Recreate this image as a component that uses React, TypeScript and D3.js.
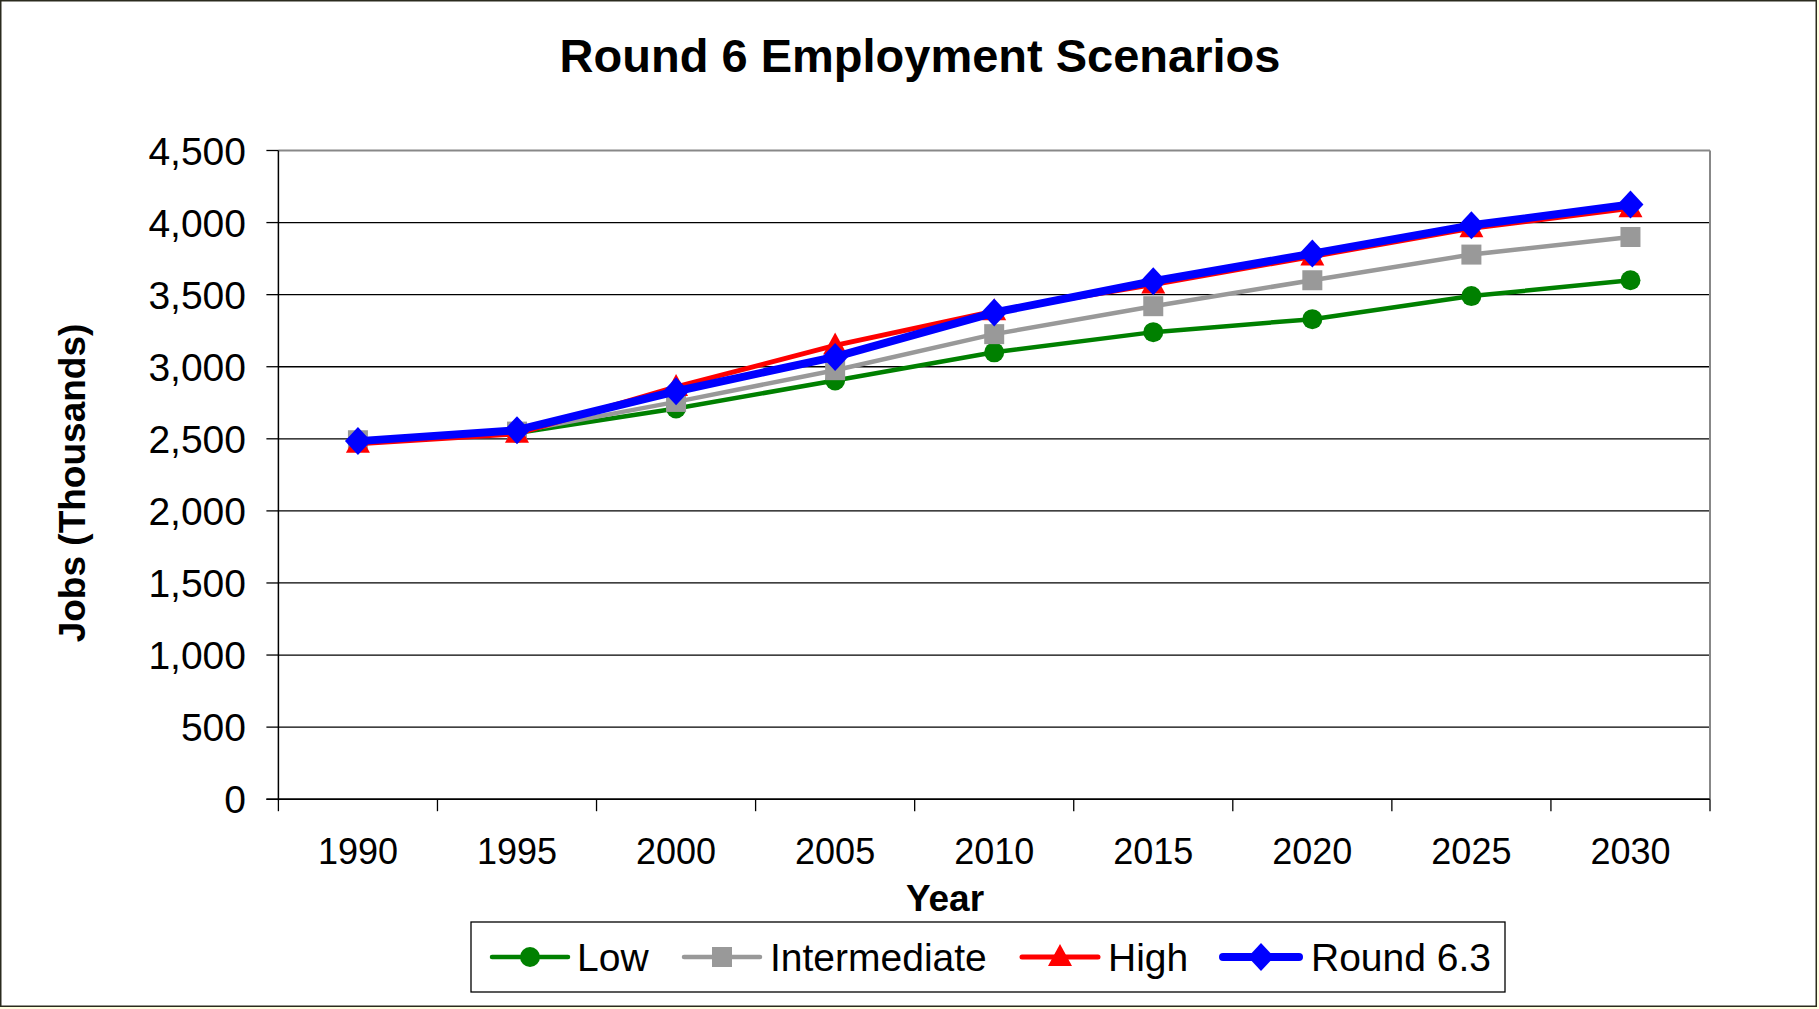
import React, { useEffect } from "react";
import * as d3 from "d3";

const years = ["1990", "1995", "2000", "2005", "2010", "2015", "2020", "2025", "2030"];
const lowValues = [2480, 2540, 2710, 2905, 3100, 3240, 3330, 3490, 3600];
const intermediateValues = [2490, 2550, 2756, 2976, 3226, 3420, 3600, 3778, 3900];
const highValues = [2465, 2535, 2860, 3148, 3385, 3570, 3765, 3960, 4100];
const round63Values = [2484, 2560, 2830, 3068, 3376, 3593, 3785, 3981, 4125];
const yTicks = [0, 500, 1000, 1500, 2000, 2500, 3000, 3500, 4000, 4500];

const seriesNames = ["Low", "Intermediate", "High", "Round 6.3"];
const seriesColors = ["#008000", "#999999", "#ff0000", "#0000ff"];
const seriesWidths = [4.5, 4.5, 5, 8];
const seriesMarkers = ["circle", "square", "triangle", "diamond"];

const FONT = "'Liberation Sans', Arial, sans-serif";

function Marker({ type, cx, cy, color }: { type: string; cx: number; cy: number; color: string }) {
  if (type === "circle") return <circle cx={cx} cy={cy} r={10} fill={color} />;
  if (type === "square") return <rect x={cx - 10} y={cy - 10} width={20} height={20} fill={color} />;
  if (type === "triangle")
    return <path d={`M${cx},${cy - 13} L${cx + 12},${cy + 9} L${cx - 12},${cy + 9} Z`} fill={color} />;
  return <path d={`M${cx},${cy - 14} L${cx + 13},${cy} L${cx},${cy + 14} L${cx - 13},${cy} Z`} fill={color} />;
}

export default function App() {
  useEffect(() => {
    document.body.style.margin = "0";
  }, []);

  const W = 1819;
  const H = 1009;
  const left = 278.4;
  const right = 1710;
  const top = 150.5;
  const bottom = 799.2;

  const x = d3.scaleBand<string>().domain(years).range([left, right]).padding(0);
  const bw = x.bandwidth();
  const cx = (yr: string) => (x(yr) as number) + bw / 2;
  const y = d3.scaleLinear().domain([0, 4500]).range([bottom, top]);

  const allSeries = [lowValues, intermediateValues, highValues, round63Values];
  const line = d3
    .line<number>()
    .x((_, i) => cx(years[i]))
    .y((v) => y(v));

  const boundaries = years.map((yr) => x(yr) as number).concat([right]);
  const fmt = d3.format(",");

  const legendItems = [
    { lineX: 492, text: 577 },
    { lineX: 684, text: 770 },
    { lineX: 1022, text: 1108 },
    { lineX: 1223, text: 1311 },
  ];
  const legendY = 957;

  return (
    <svg width={W} height={H} style={{ position: "absolute", left: 0, top: 0, display: "block" }}>
      <rect x={0} y={0} width={W} height={H} fill="#ffffe0" />
      <rect x={0.75} y={0.75} width={1815.5} height={1005.5} fill="#ffffff" stroke="#2b2b1e" strokeWidth={1.5} />

      <text x={920} y={72} textAnchor="middle" fontFamily={FONT} fontWeight="bold" fontSize={47}>
        Round 6 Employment Scenarios
      </text>

      {/* gridlines */}
      {yTicks.map((t) => (
        <line key={"g" + t} x1={left} x2={right} y1={y(t)} y2={y(t)} stroke={t === 4500 ? "#888888" : "#000000"} strokeWidth={t === 4500 ? 2 : 1.3} />
      ))}
      {/* plot border right */}
      <line x1={right} x2={right} y1={top} y2={bottom} stroke="#888888" strokeWidth={2} />

      {/* y axis */}
      <line x1={left} x2={left} y1={top} y2={bottom + 1} stroke="#000" strokeWidth={1.5} />
      {yTicks.map((t) => (
        <g key={"yt" + t}>
          <line x1={left - 12} x2={left} y1={y(t)} y2={y(t)} stroke="#000" strokeWidth={1.3} />
          <text x={246} y={y(t) + 14} textAnchor="end" fontFamily={FONT} fontSize={39}>
            {fmt(t)}
          </text>
        </g>
      ))}

      {/* x axis */}
      <line x1={left - 12} x2={right} y1={bottom} y2={bottom} stroke="#000" strokeWidth={1.5} />
      {boundaries.map((b, i) => (
        <line key={"xt" + i} x1={b} x2={b} y1={bottom} y2={bottom + 12} stroke="#000" strokeWidth={1.3} />
      ))}
      {years.map((yr) => (
        <text key={"xl" + yr} x={cx(yr)} y={864} textAnchor="middle" fontFamily={FONT} fontSize={36}>
          {yr}
        </text>
      ))}

      <text x={945} y={911} textAnchor="middle" fontFamily={FONT} fontWeight="bold" fontSize={37}>
        Year
      </text>
      <text
        transform={`translate(85,483) rotate(-90)`}
        textAnchor="middle"
        fontFamily={FONT}
        fontWeight="bold"
        fontSize={37}
      >
        Jobs (Thousands)
      </text>

      {/* series */}
      {allSeries.map((vals, si) => (
        <g key={"s" + si}>
          <path d={line(vals) as string} fill="none" stroke={seriesColors[si]} strokeWidth={seriesWidths[si]} strokeLinejoin="round" />
          {vals.map((v, i) => (
            <Marker key={i} type={seriesMarkers[si]} cx={cx(years[i])} cy={y(v)} color={seriesColors[si]} />
          ))}
        </g>
      ))}

      {/* legend */}
      <rect x={471} y={922} width={1034} height={70} fill="#ffffff" stroke="#000" strokeWidth={1.3} />
      {seriesNames.map((name, i) => {
        const it = legendItems[i];
        return (
          <g key={"lg" + i}>
            <line
              x1={it.lineX}
              x2={it.lineX + 76}
              y1={legendY}
              y2={legendY}
              stroke={seriesColors[i]}
              strokeWidth={seriesWidths[i]}
              strokeLinecap="round"
            />
            <Marker type={seriesMarkers[i]} cx={it.lineX + 38} cy={legendY} color={seriesColors[i]} />
            <text x={it.text} y={legendY + 14} fontFamily={FONT} fontSize={39}>
              {name}
            </text>
          </g>
        );
      })}
    </svg>
  );
}
